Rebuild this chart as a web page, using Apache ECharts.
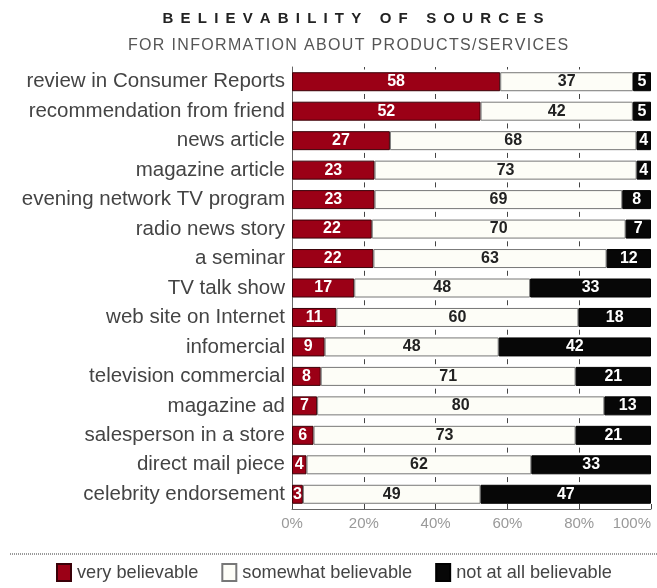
<!DOCTYPE html>
<html><head><meta charset="utf-8">
<script src="https://cdn.jsdelivr.net/npm/echarts@6/dist/echarts.min.js"></script>
<style>html,body{margin:0;padding:0;background:#fff}#c{width:657px;height:588px}</style>
</head><body><div id="c"></div>
<script>
const categories = ["review in Consumer Reports","recommendation from friend","news article","magazine article","evening network TV program","radio news story","a seminar","TV talk show","web site on Internet","infomercial","television commercial","magazine ad","salesperson in a store","direct mail piece","celebrity endorsement"];
const veryBelievable = [58,52,27,23,23,22,22,17,11,9,8,7,6,4,3];
const somewhatBelievable = [37,42,68,73,69,70,63,48,60,48,71,80,73,62,49];
const notAtAllBelievable = [5,5,4,4,8,7,12,33,18,42,21,13,21,33,47];
const xTicks = [0,20,40,60,80,100];
const titleText = 'BELIEVABILITY OF SOURCES';
const subtitleText = 'FOR INFORMATION ABOUT PRODUCTS/SERVICES';

// bars are drawn as shares of each row's total (100% stacked)
const totals = categories.map((c,i)=>veryBelievable[i]+somewhatBelievable[i]+notAtAllBelievable[i]);
function share(arr){ return arr.map((v,i)=>({value: v/totals[i]*100, raw: v})); }
function spaced(s, sep){ return s.split('').join(sep); }

const FF = 'Liberation Sans, Arial, sans-serif';
const labelFont = {fontFamily:FF, fontWeight:'bold', fontSize:16};
function mkSeries(name, arr, fill, border, txt){
  return {
    name, type:'bar', stack:'s', data: share(arr), barWidth:19,
    itemStyle:{color:fill, borderColor:border, borderWidth:1},
    label:{show:true, position:'inside', color:txt, ...labelFont,
      formatter:p=>String(p.data.raw)},
    emphasis:{disabled:true}
  };
}

const chart = echarts.init(document.getElementById('c'));
chart.setOption({
  animation:false,
  title:[
    {text:spaced(titleText, '\u2009 '), left:348, top:6, textAlign:'center',
     textStyle:{fontFamily:FF, fontWeight:'bold', fontSize:15, color:'#222'}},
    {text:spaced(subtitleText, '\u200A'), left:343, top:33, textAlign:'center',
     textStyle:{fontFamily:FF, fontWeight:'normal', fontSize:16, color:'#555'}}
  ],
  legend:{
    bottom:1, left:51, itemWidth:14, itemHeight:17, itemGap:23, icon:'rect',
    textStyle:{fontFamily:FF, fontSize:18.2, color:'#444', padding:[0,0,0,1]},
    data:['very believable','somewhat believable','not at all believable']
  },
  grid:{left:292, right:6, top:67, bottom:79, outerBoundsMode:'none', containLabel:false},
  xAxis:{type:'value', min:xTicks[0], max:xTicks[xTicks.length-1], interval:20,
    axisLine:{show:true, lineStyle:{color:'#666', width:1}},
    axisTick:{show:true, inside:true, length:5, lineStyle:{color:'#444'}},
    axisLabel:{formatter:'{value}%', color:'#999', fontSize:15, margin:7, fontFamily:FF, alignMaxLabel:'right'},
    splitLine:{show:true, showMinLine:false, showMaxLine:false,
      lineStyle:{color:'#444', width:1, type:[5,24.47], dashOffset:2.5}}
  },
  yAxis:{type:'category', data:categories, inverse:true,
    axisLine:{show:true, lineStyle:{color:'#666', width:1}},
    axisTick:{show:false},
    axisLabel:{color:'#444', fontSize:20.5, margin:7, fontFamily:FF}
  },
  series:[
    mkSeries('very believable', veryBelievable, '#9b0016', '#3a0008', '#fff'),
    mkSeries('somewhat believable', somewhatBelievable, '#fdfdf7', '#777', '#222'),
    mkSeries('not at all believable', notAtAllBelievable, '#070707', '#000', '#fff')
  ],
  graphic:[
    {type:'line', shape:{x1:10, y1:554, x2:657, y2:554}, style:{stroke:'#999', lineWidth:2, lineDash:[1,1]}, silent:true}
  ]
});
</script></body></html>
